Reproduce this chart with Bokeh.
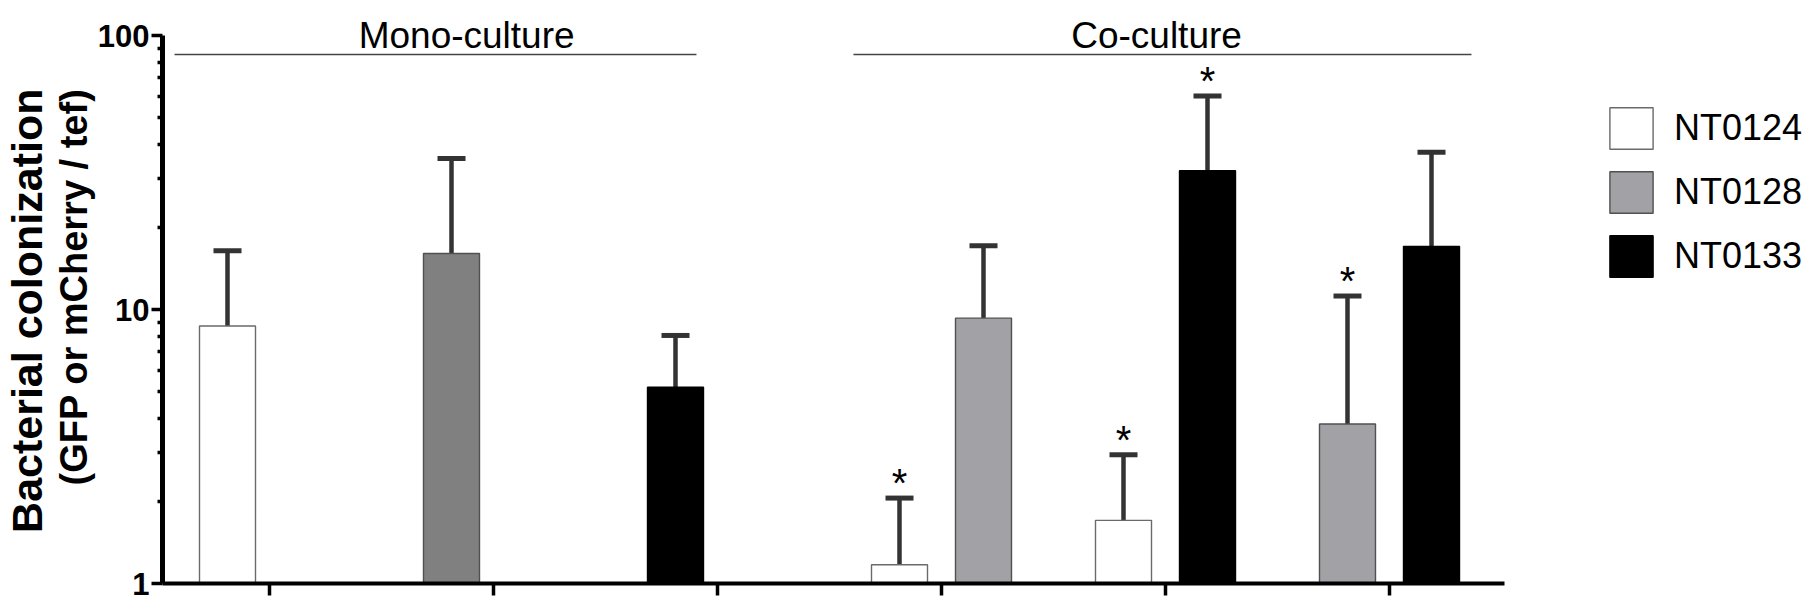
from bokeh.plotting import figure
from bokeh.models import (ColumnDataSource, Range1d, FixedTicker, Whisker, TeeHead,
                          Legend, LegendItem, Title)
from bokeh.core.properties import value
from bokeh.embed import file_html
from bokeh.resources import INLINE

# ---------------- data ----------------
categories = ["Mono NT0124", "Mono NT0128", "Mono NT0133",
              "Co NT0124+NT0128", "Co NT0124+NT0133", "Co NT0128+NT0133"]
culture = ["mono", "mono", "mono", "co", "co", "co"]
series_names = ["NT0124", "NT0128", "NT0133"]

nt0124_mean = [8.7, None, None, 1.17, 1.70, None]
nt0124_upper = [16.4, None, None, 2.05, 2.95, None]
nt0124_sig = [False, None, None, True, True, None]

nt0128_mean = [None, 16.0, None, 9.3, None, 3.82]
nt0128_upper = [None, 35.6, None, 17.1, None, 11.2]
nt0128_sig = [None, False, None, False, None, True]

nt0133_mean = [None, None, 5.2, None, 32.1, 17.0]
nt0133_upper = [None, None, 8.04, None, 60.2, 37.5]
nt0133_sig = [None, None, False, None, True, False]

y_ticks = [1, 10, 100]
y_tick_labels = ["1", "10", "100"]
group_titles = ["Mono-culture", "Co-culture"]
y_label_lines = ["Bacterial colonization", "(GFP or mCherry / tef)"]

# ---------------- layout / style ----------------
FONT = "Liberation Sans"
FRAME_LEFT = 160          # expected width of the left axis panel
TOTAL_W = 1804
FRAME_W = TOTAL_W - FRAME_LEFT
FRAME_H = 583
PX_PER_CAT = 224.0
PX_PER_DEC = 274.0
FIRST_TICK_PX = 267
X0 = -(FIRST_TICK_PX - FRAME_LEFT) / PX_PER_CAT
X1 = X0 + FRAME_W / PX_PER_CAT
Y_END = 10 ** (FRAME_H / PX_PER_DEC)
BAR_W = 0.25
OFFSET = 0.1875

fills = {"NT0124": {"mono": "#ffffff", "co": "#ffffff"},
         "NT0128": {"mono": "#808080", "co": "#a2a2a6"},
         "NT0133": {"mono": "#000000", "co": "#000000"}}
edges = {"NT0124": "#6a6a6a", "NT0128": "#505050", "NT0133": "#000000"}

means = {"NT0124": nt0124_mean, "NT0128": nt0128_mean, "NT0133": nt0133_mean}
uppers = {"NT0124": nt0124_upper, "NT0128": nt0128_upper, "NT0133": nt0133_upper}
sigs = {"NT0124": nt0124_sig, "NT0128": nt0128_sig, "NT0133": nt0133_sig}

# slot of each bar in its category: first present series left, second right
slot = {}
for i in range(len(categories)):
    present = [s for s in series_names if means[s][i] is not None]
    for k, s in enumerate(present):
        slot[(s, i)] = -OFFSET if k == 0 else OFFSET

p = figure(frame_width=FRAME_W, frame_height=FRAME_H,
           x_range=Range1d(X0, X1), y_range=Range1d(1, Y_END),
           y_axis_type="log", output_backend="svg", toolbar_location=None,
           min_border=0, min_border_left=0, min_border_right=0,
           min_border_top=0, min_border_bottom=17)
p.outline_line_color = None
p.xgrid.visible = False
p.ygrid.visible = False
p.background_fill_color = "white"
p.border_fill_color = "white"

legend_items = []
star_x, star_y = [], []
for s in series_names:
    idx = [i for i in range(len(categories)) if means[s][i] is not None]
    src = ColumnDataSource(dict(
        x=[i + slot[(s, i)] for i in idx],
        top=[means[s][i] for i in idx],
        upper=[uppers[s][i] for i in idx],
        color=[fills[s][culture[i]] for i in idx],
    ))
    w = Whisker(source=src, base="x", lower="top", upper="upper",
                dimension="height", line_color="#333333", line_width=4.5,
                lower_head=None,
                upper_head=TeeHead(size=28, line_color="#333333", line_width=5))
    p.add_layout(w)
    r = p.vbar(x="x", top="top", bottom=1, width=BAR_W, source=src,
               fill_color="color", line_color=edges[s], line_width=1.4)
    leg_index = next(k for k, i in enumerate(idx) if culture[i] == "co")
    legend_items.append(LegendItem(label=s, renderers=[r], index=leg_index))
    for i in idx:
        if sigs[s][i]:
            star_x.append(i + slot[(s, i)])
            star_y.append(uppers[s][i])

p.text(x=star_x, y=star_y, text=["*"] * len(star_x), text_font=value(FONT),
       text_font_size="40px", text_align="center", text_baseline="alphabetic",
       y_offset=-15, text_color="black")

# group headers
mono_idx = [i for i in range(len(categories)) if culture[i] == "mono"]
co_idx = [i for i in range(len(categories)) if culture[i] == "co"]
line_y = 10 ** ((FRAME_H - 54) / PX_PER_DEC)
text_y = 10 ** ((FRAME_H - 34.5) / PX_PER_DEC)
p.segment(x0=[mono_idx[0] - 0.424, co_idx[0] - 0.393],
          x1=[mono_idx[-1] - 0.094, co_idx[-1] + 0.366],
          y0=[line_y, line_y], y1=[line_y, line_y],
          line_color="#444444", line_width=1.4)
p.text(x=[mono_idx[0] + 0.88, co_idx[0] + 0.96], y=[text_y, text_y],
       text=group_titles, text_font=value(FONT), text_font_size="37px",
       text_align="center", text_baseline="alphabetic", text_color="black")

# axes
x_ticks = list(range(len(categories)))
p.xaxis.ticker = FixedTicker(ticks=x_ticks)
p.xaxis.major_label_overrides = {t: "" for t in x_ticks}
p.xaxis.major_label_standoff = 0
p.xaxis.major_tick_out = 12
p.xaxis.major_tick_in = 0
p.xaxis.major_tick_line_width = 3.5
p.xaxis.minor_tick_line_color = None
p.xaxis.axis_line_width = 4
p.xaxis.bounds = (X0, len(categories) - 1 + 0.513)

minor = [m * t for t in y_ticks[:-1] for m in range(2, 10)]
p.yaxis.ticker = FixedTicker(ticks=y_ticks, minor_ticks=minor)
p.yaxis.major_label_overrides = dict(zip(y_ticks, y_tick_labels))
p.yaxis.bounds = (y_ticks[0], y_ticks[-1])
p.yaxis.axis_line_width = 5
p.yaxis.major_tick_out = 11
p.yaxis.major_tick_in = 0
p.yaxis.major_tick_line_width = 3.5
p.yaxis.minor_tick_out = 5
p.yaxis.minor_tick_in = 0
p.yaxis.minor_tick_line_width = 3.5
p.yaxis.major_label_text_font = FONT
p.yaxis.major_label_text_font_style = "bold"
p.yaxis.major_label_text_font_size = "31px"
p.yaxis.major_label_text_color = "black"
p.yaxis.major_label_standoff = 2

# two-line y-axis title, both lines ending at the same height
for line, size, stand in [(y_label_lines[1], "38px", 0), (y_label_lines[0], "43px", 0)]:
    t = Title(text=line, align="right", offset=88, standoff=stand,
              text_font=FONT, text_font_style="bold", text_font_size=size,
              text_color="black")
    p.add_layout(t, "left")

# legend (inside the frame, right of the bars); area glyphs are inset 10%
GLYPH_W, GLYPH_H = 54, 52
legend_top_px = 102
legend_h = 3 * GLYPH_H + 2 * 12
legend = Legend(items=legend_items,
                location=(1602 - FRAME_LEFT, FRAME_H - legend_top_px - legend_h),
                glyph_width=GLYPH_W, glyph_height=GLYPH_H, spacing=12,
                label_standoff=16,
                label_text_font=FONT, label_text_font_size="36px",
                label_text_color="black", label_height=GLYPH_H,
                padding=0, margin=0, border_line_color=None,
                background_fill_alpha=0)
p.add_layout(legend)

open("out.html", "w").write(file_html(p, INLINE))
